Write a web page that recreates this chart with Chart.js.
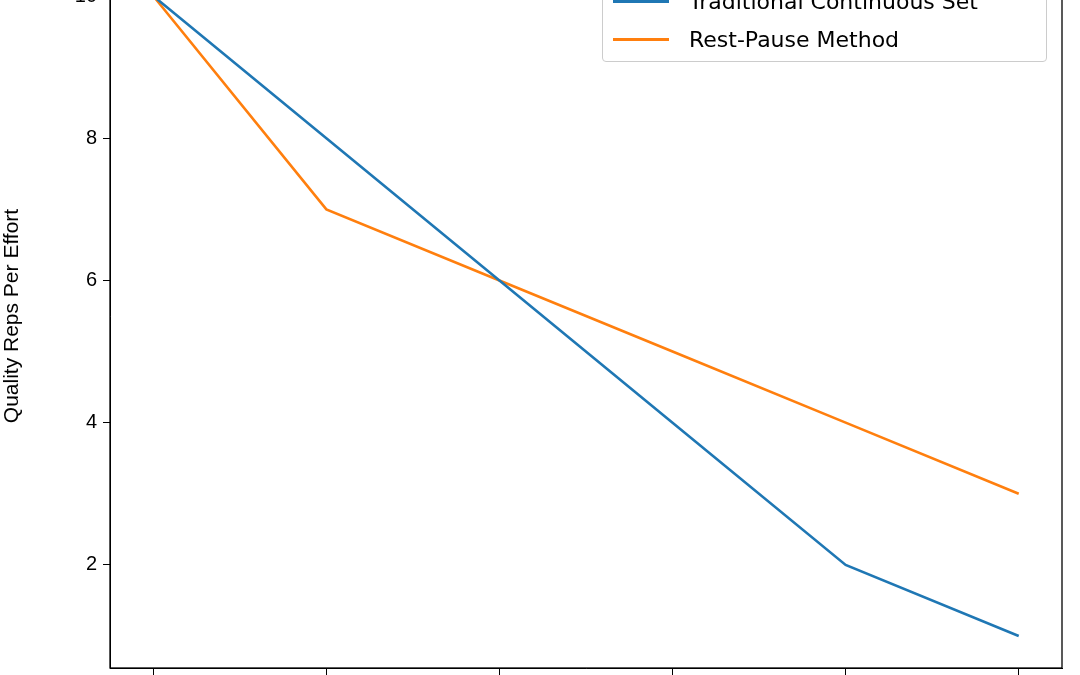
<!DOCTYPE html>
<html>
<head>
<meta charset="utf-8">
<script src="https://cdn.jsdelivr.net/npm/chart.js@4/dist/chart.umd.min.js"></script>
<style>
  body { margin: 0; background: #fff; font-family: "DejaVu Sans", sans-serif; }
  #wrap { position: relative; width: 1080px; height: 675px; overflow: hidden; }
  #holder { position: absolute; left: 0; top: -54px; width: 1080px; height: 817px; }
  #legend {
    position: absolute; left: 602px; top: -24px; width: 443px; height: 84px;
    border: 1px solid #cccccc; border-radius: 4px; background: rgba(255,255,255,0.8);
    font-size: 22px; color: #000;
  }
  .row { position: absolute; left: 10px; height: 28px; display: flex; align-items: center; }
  .sw { width: 56px; height: 3px; margin-right: 20px; }
</style>
</head>
<body>
<div id="wrap">
  <div id="holder"><canvas id="mainChart" width="1080" height="817"></canvas></div>
  <div id="legend">
    <div class="row" style="top:10px"><div class="sw" style="background:#1f77b4"></div>Traditional Continuous Set</div>
    <div class="row" style="top:48px"><div class="sw" style="background:#ff7f0e"></div>Rest-Pause Method</div>
  </div>
</div>
<script>
const efforts = [0, 1, 2, 3, 4, 5];
const traditionalReps = [10, 8, 6, 4, 2, 1];
const restPauseReps = [10, 7, 6, 5, 4, 3];
const yTicks = [2, 4, 6, 8, 10];

const frame = {
  id: 'frame',
  afterDraw(c) {
    const a = c.chartArea, ctx = c.ctx;
    ctx.save();
    ctx.strokeStyle = '#000';
    ctx.lineWidth = 1.3;
    ctx.strokeRect(a.left, a.top, a.right - a.left, a.bottom - a.top);
    ctx.restore();
  }
};

const ctx = document.getElementById('mainChart').getContext('2d');
new Chart(ctx, {
  type: 'line',
  data: {
    datasets: [
      { label: 'Traditional Continuous Set', data: efforts.map((x, i) => ({ x, y: traditionalReps[i] })),
        borderColor: '#1f77b4', borderWidth: 2.6, pointRadius: 0, tension: 0 },
      { label: 'Rest-Pause Method', data: efforts.map((x, i) => ({ x, y: restPauseReps[i] })),
        borderColor: '#ff7f0e', borderWidth: 2.6, pointRadius: 0, tension: 0 }
    ]
  },
  options: {
    responsive: false,
    animation: false,
    layout: { padding: { top: 0, right: 18, left: 0, bottom: 0 } },
    plugins: { legend: { display: false }, tooltip: { enabled: false } },
    scales: {
      x: {
        type: 'linear', min: -0.25, max: 5.25,
        afterBuildTicks: s => { s.ticks = efforts.map(v => ({ value: v })); },
        afterFit: s => { s.height = 95; },
        grid: { drawOnChartArea: false, drawTicks: true, tickLength: 7, color: '#000' },
        border: { color: '#000' },
        ticks: { color: '#000', font: { size: 20 }, callback: v => v + 1 }
      },
      y: {
        min: 0.55, max: 10.45,
        afterBuildTicks: s => { s.ticks = yTicks.map(v => ({ value: v })); },
        afterFit: s => { s.width = 110; },
        grid: { drawOnChartArea: false, drawTicks: true, tickLength: 7, color: '#000' },
        border: { color: '#000' },
        ticks: { color: '#000', font: { size: 20 }, padding: 6 },
        title: { display: true, text: 'Quality Reps Per Effort', color: '#000', font: { size: 21 }, padding: { top: 0, bottom: 14 } }
      }
    }
  },
  plugins: [frame]
});
</script>
</body>
</html>
